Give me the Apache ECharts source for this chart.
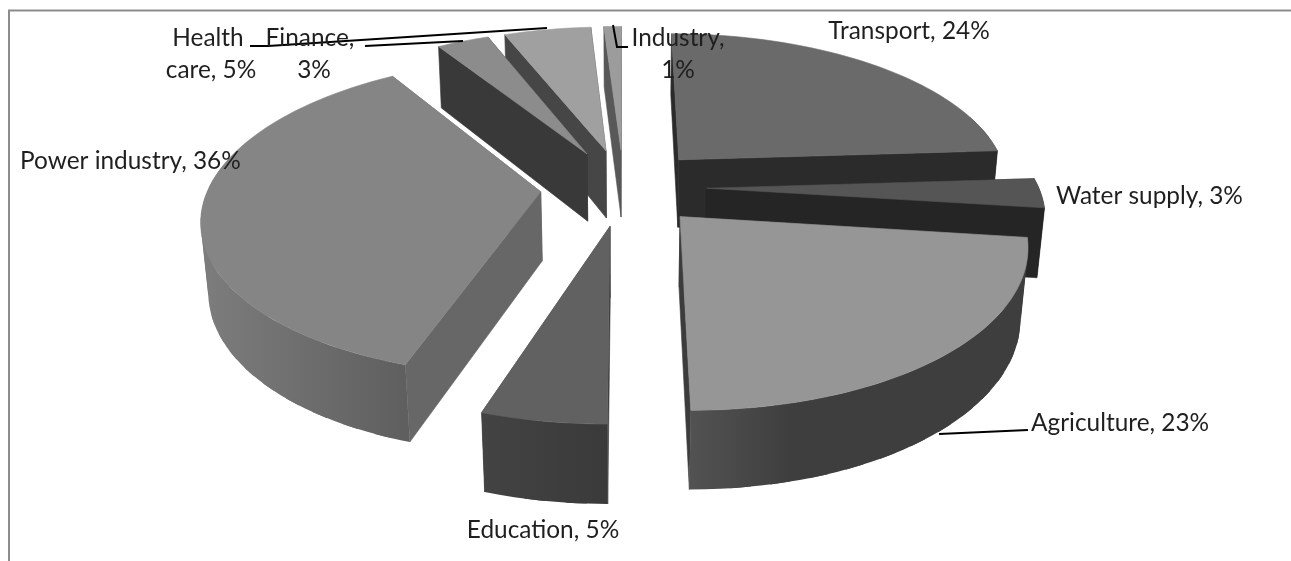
<!DOCTYPE html>
<html><head><meta charset="utf-8">
<style>html,body{margin:0;padding:0;background:#fff}#c{width:1291px;height:561px}</style>
<script src="https://cdn.jsdelivr.net/npm/echarts@6/dist/echarts.min.js"></script>
</head><body><div id="c"></div>
<script>
// data, clockwise from 12 o'clock
const categories = ['Transport','Water supply','Agriculture','Education','Power industry','Finance','Health care','Industry'];
const shares = [24,3,23,5,36,3,5,1];
// styles
const topFill  = ['#6a6a6a','#555555','#969696','#616161','#858585','#8c8c8c','#a0a0a0','#9c9c9c'];
const cutFill  = ['#2b2b2b','#252525','#3c3c3c','#3a3a3a','#676767','#393939','#464646','#585858'];
const rimFrom  = ['#2b2b2b','#252525','#3e3e3e','#3a3a3a','#5f5f5f','#393939','#464646','#585858'];
const rimTo    = ['#2b2b2b','#252525','#525252','#434343','#7c7c7c','#393939','#464646','#585858'];
const rimHold  = [0,0,0.7,0,0,0,0,0];

// camera
const CX=623.5, CY=187, F=332, SIN_T=0.462, COS_T=0.887, KV=0.155, KZ=0.075, EXPLODE=0.25, THICK=0.238;
const CHUNK=Math.PI/30;
function project(u,v,z){
  const w=1-KV*v+KZ*z;
  return [CX+F*u/w, CY+F*(v*SIN_T+z*COS_T)/w];
}
const total=shares.reduce((a,b)=>a+b,0);
const starts=[]; shares.reduce((acc,s,i)=>{starts[i]=acc;return acc+s;},0);
const toAngle=p=>p/total*2*Math.PI;
function bisector(i){return toAngle(starts[i]+shares[i]/2);}
const order=categories.map((_,i)=>i).sort((a,b)=>(-Math.cos(bisector(a)))-(-Math.cos(bisector(b))));

function renderItem(params,api){
  const i=api.value(1), share=api.value(0);
  const a0=toAngle(starts[i]), a1=a0+toAngle(share), mid=(a0+a1)/2;
  const ou=Math.sin(mid)*EXPLODE, ov=-Math.cos(mid)*EXPLODE;
  const rim=a=>[ou+Math.sin(a), ov-Math.cos(a)];
  const walls=[];
  const poly=(pts,fill,lw)=>({type:'polygon',shape:{points:pts},style:lw?{fill:fill,stroke:fill,lineWidth:lw}:{fill:fill},silent:true});
  const cut=(a)=>{const r=rim(a);
    walls.push({d:(ov+r[1])/2, el:poly([project(ou,ov,0),project(r[0],r[1],0),project(r[0],r[1],THICK),project(ou,ov,THICK)],cutFill[i],0.6)});};
  cut(a0);cut(a1);
  // shading runs across the part of the rim that faces the viewer
  const g0=rim(Math.max(a0,Math.PI/2)), g1=rim(Math.min(a1,Math.PI*1.5));
  const px0=project(g0[0],g0[1],0)[0], px1=project(g1[0],g1[1],0)[0];
  const stops=[{offset:0,color:rimFrom[i]}];
  if(rimHold[i]>0) stops.push({offset:rimHold[i],color:rimFrom[i]});
  stops.push({offset:1,color:rimTo[i]});
  const rimGrad={type:'linear',global:true,x:px0,y:0,x2:px1===px0?px0+1:px1,y2:0,colorStops:stops};
  const steps=Math.max(1,Math.ceil((a1-a0)/CHUNK));
  const sub=4;
  for(let c=0;c<steps;c++){
    const s=Math.max(a0,a0+(a1-a0)*c/steps-CHUNK/2), e=a0+(a1-a0)*(c+1)/steps;
    if(Math.cos((s+e)/2)>0.25) continue; // faces away from the viewer
    const up=[],low=[];let vs=0;
    for(let k=0;k<=sub;k++){
      const r=rim(s+(e-s)*k/sub);
      up.push(project(r[0],r[1],0));
      low.unshift(project(r[0],r[1],THICK));
      vs+=r[1];
    }
    walls.push({d:vs/(sub+1), el:poly(up.concat(low),rimGrad,0)});
  }
  walls.sort((x,y)=>x.d-y.d);
  const face=[project(ou,ov,0)];
  const n=steps*sub;
  for(let k=0;k<=n;k++){const r=rim(a0+(a1-a0)*k/n);face.push(project(r[0],r[1],0));}
  return {type:'group',children:walls.map(q=>q.el).concat([poly(face,topFill[i],0.6)])};
}

const labelFont='24.4px Lato, Carlito, sans-serif';
function label(text,x,y,align){return {type:'text',x:x,y:y,z:10,style:{text:text,font:labelFont,fill:'#1f1f1f',textAlign:align||'center',textVerticalAlign:'middle'},silent:true};}
function leader(pts){return {type:'polyline',z:9,shape:{points:pts},style:{stroke:'#000',lineWidth:2,fill:null},silent:true};}

const chart=echarts.init(document.getElementById('c'),null,{renderer:'canvas'});
chart.setOption({
  animation:false,
  backgroundColor:'#fff',
  series:[{type:'custom',coordinateSystem:'none',renderItem:renderItem,silent:true,
    data:order.map(i=>({name:categories[i],value:[shares[i],i]}))}],
  graphic:[
    {type:'polyline',z:1,shape:{points:[[9,561],[9,10.5],[1291,10.5]]},style:{stroke:'#8c8c8c',lineWidth:2,fill:null},silent:true},
    leader([[250,46],[268,46],[547,28]]),
    leader([[365,46],[463,41]]),
    leader([[613,25],[617,47],[628,47]]),
    leader([[1028,430],[939,434]]),
    label('Transport, '+shares[0]+'%',909,31),
    label('Water supply, '+shares[1]+'%',1056,196,'left'),
    label('Agriculture, '+shares[2]+'%',1031,423,'left'),
    label('Education, '+shares[3]+'%',543,530),
    label('Power industry, '+shares[4]+'%',20,161,'left'),
    label('Health',208,38),label('care, '+shares[6]+'%',211,70),
    label('Finance,',310,38),label(shares[5]+'%',314,70),
    label('Industry,',678,38),label(shares[7]+'%',678,70)
  ]
});
</script></body></html>
